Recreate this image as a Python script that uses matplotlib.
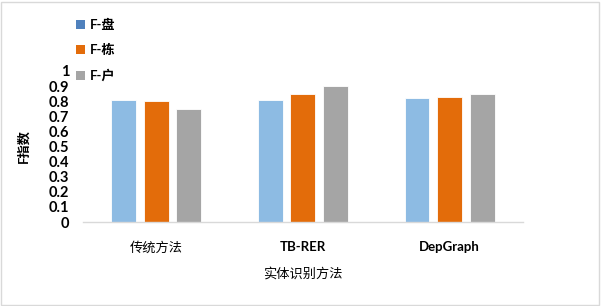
import matplotlib
matplotlib.use("Agg")
import matplotlib.pyplot as plt
import numpy as np
from matplotlib.patches import Patch, Rectangle

plt.rcParams['font.family'] = ['Lato', 'Noto Sans CJK SC', 'DejaVu Sans']

categories = ["传统方法", "TB-RER", "DepGraph"]
series_names = ["F-盘", "F-栋", "F-户"]
f_pan = [0.81, 0.81, 0.82]
f_dong = [0.80, 0.85, 0.83]
f_hu = [0.75, 0.90, 0.85]
yticks = [0, 0.1, 0.2, 0.3, 0.4, 0.5, 0.6, 0.7, 0.8, 0.9, 1]
ytick_labels = ["0", "0.1", "0.2", "0.3", "0.4", "0.5", "0.6", "0.7", "0.8", "0.9", "1"]

bar_colors = ["#8dbbe3", "#e36c0a", "#a5a5a5"]
legend_colors = ["#4f81bd", "#e36c0a", "#a5a5a5"]

fig = plt.figure(figsize=(6.01, 3.06), dpi=100)
ax = fig.add_axes([0.138, 0.2745, 0.732, 0.4935])

x = np.arange(len(categories))
w = 0.17
step = 0.222
for i, vals in enumerate([f_pan, f_dong, f_hu]):
    ax.bar(x + (i - 1) * step, vals, width=w, color=bar_colors[i],
           edgecolor="white", linewidth=0.6)

ax.set_xlim(-0.5, 2.5)
ax.set_ylim(0, 1)
ax.set_yticks(yticks)
ax.set_yticklabels(ytick_labels, fontsize=10.5, fontweight="bold")
ax.set_xticks(x)
ax.set_xticklabels(categories, fontsize=9.5)
for lbl in ax.get_xticklabels()[1:]:
    lbl.set_fontweight("bold")
ax.tick_params(axis="both", length=0)
ax.tick_params(axis="x", pad=14)
ax.tick_params(axis="y", pad=10)
for s in ["top", "right", "left"]:
    ax.spines[s].set_visible(False)
ax.spines["bottom"].set_color("#d9d9d9")
ax.spines["bottom"].set_linewidth(1.0)

ax.set_ylabel("F指数", fontsize=9.5, fontweight="bold", labelpad=14)
ax.set_xlabel("实体识别方法", fontsize=9.5, labelpad=9)

handles = [Patch(facecolor=c, edgecolor="none") for c in legend_colors]
leg = fig.legend(handles, series_names, loc="upper left", bbox_to_anchor=(0.106, 0.978),
                 frameon=False, handlelength=0.7, handleheight=0.7, handletextpad=0.4,
                 labelspacing=1.0, prop={"size": 9.5, "weight": "bold"})

fig.patches.append(Rectangle((0.002, 0.003), 0.994, 0.992, transform=fig.transFigure,
                             fill=False, edgecolor="#d9d9d9", linewidth=1.0))

fig.savefig("out.png", dpi=100)
